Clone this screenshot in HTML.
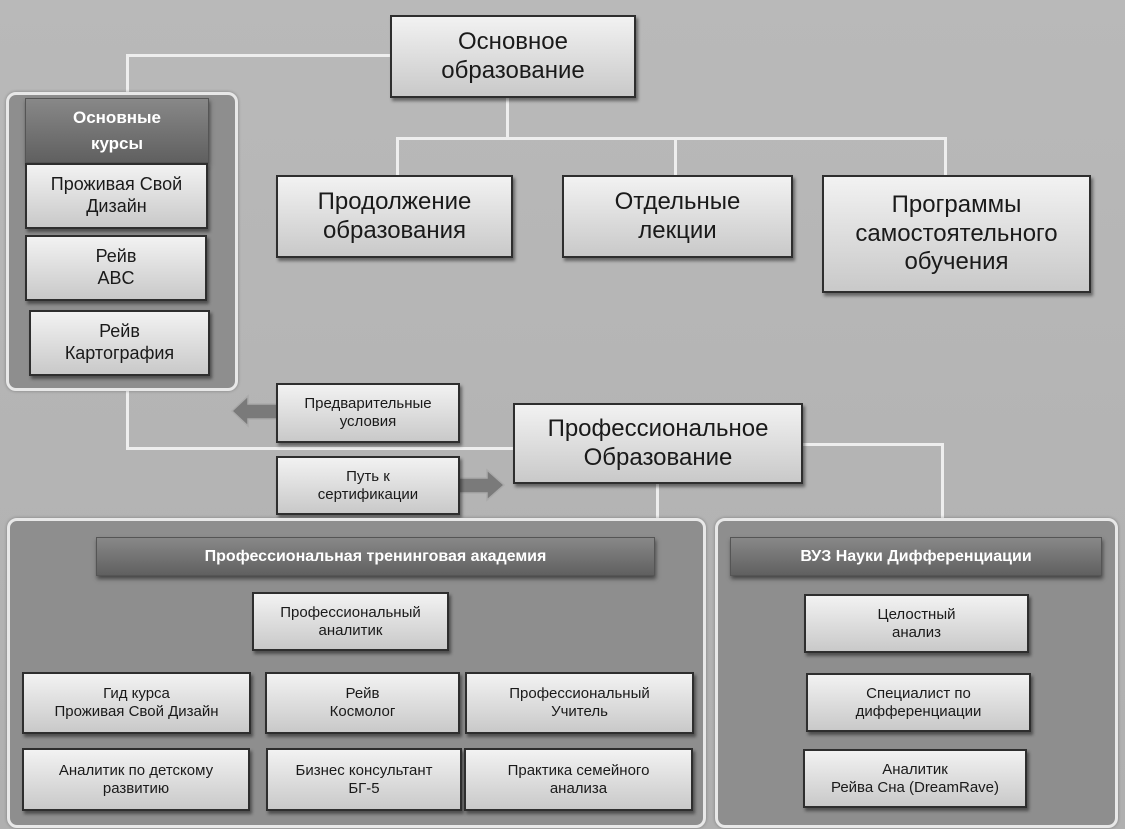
<!DOCTYPE html>
<html><head><meta charset="utf-8"><style>
body{margin:0;width:1125px;height:829px;background:linear-gradient(#b9b9b9,#b0b0b0);position:relative;overflow:hidden;font-family:"Liberation Sans",sans-serif;color:#1a1a1a}
.b{position:absolute;box-sizing:border-box;border:2px solid #2e2e2e;background:linear-gradient(#f2f2f2,#c9c9c9);box-shadow:2px 3px 3px rgba(0,0,0,.45);display:flex;align-items:center;justify-content:center;text-align:center;line-height:1.2}
.l{position:absolute;background:#eeeeee}
.p{position:absolute;box-sizing:border-box;border:3px solid #e8e8e8;border-radius:10px;background:#8e8e8e;box-shadow:0 0 3px rgba(0,0,0,.3)}
.h{position:absolute;box-sizing:border-box;background:linear-gradient(#888,#606060);color:#fff;font-weight:bold;display:flex;align-items:center;justify-content:center;text-align:center;box-shadow:1px 3px 4px rgba(0,0,0,.5);border:1px solid #555}
.f24{font-size:24px}.f18{font-size:18px}.f15{font-size:15px}
</style></head><body>
<!-- connectors -->
<div class="l" style="left:126px;top:54px;width:266px;height:3px"></div>
<div class="l" style="left:126px;top:54px;width:3px;height:42px"></div>
<div class="l" style="left:126px;top:388px;width:3px;height:62px"></div>
<div class="l" style="left:126px;top:447px;width:390px;height:3px"></div>
<div class="l" style="left:506px;top:96px;width:3px;height:44px"></div>
<div class="l" style="left:396px;top:137px;width:551px;height:3px"></div>
<div class="l" style="left:396px;top:137px;width:3px;height:40px"></div>
<div class="l" style="left:674px;top:137px;width:3px;height:40px"></div>
<div class="l" style="left:944px;top:137px;width:3px;height:40px"></div>
<div class="l" style="left:800px;top:443px;width:144px;height:3px"></div>
<div class="l" style="left:941px;top:443px;width:3px;height:78px"></div>
<div class="l" style="left:656px;top:482px;width:3px;height:38px"></div>

<div class="b f24" style="left:390px;top:15px;width:246px;height:83px">Основное<br>образование</div>
<div class="b f24" style="left:276px;top:175px;width:237px;height:83px">Продолжение<br>образования</div>
<div class="b f24" style="left:562px;top:175px;width:231px;height:83px">Отдельные<br>лекции</div>
<div class="b f24" style="left:822px;top:175px;width:269px;height:118px">Программы<br>самостоятельного<br>обучения</div>

<div class="p" style="left:6px;top:92px;width:232px;height:299px"></div>
<div class="h" style="left:25px;top:98px;width:184px;height:65px;font-size:17px;line-height:1.5">Основные<br>курсы</div>
<div class="b f18" style="left:25px;top:163px;width:183px;height:66px">Проживая Свой<br>Дизайн</div>
<div class="b f18" style="left:25px;top:235px;width:182px;height:66px">Рейв<br>ABC</div>
<div class="b f18" style="left:29px;top:310px;width:181px;height:66px">Рейв<br>Картография</div>

<svg style="position:absolute;left:228px;top:392px" width="52" height="40"><polygon points="4,19 20,4 20,12 50,12 50,27 20,27 20,34" fill="#7a7a7a" stroke="#aaa" stroke-width="1.5"/></svg>
<svg style="position:absolute;left:457px;top:466px" width="52" height="40"><polygon points="2,12 30,12 30,4 47,19 30,34 30,27 2,27" fill="#7a7a7a" stroke="#aaa" stroke-width="1.5"/></svg>
<div class="b f15" style="left:276px;top:383px;width:184px;height:60px">Предварительные<br>условия</div>
<div class="b f15" style="left:276px;top:456px;width:184px;height:59px">Путь к<br>сертификации</div>
<div class="b f24" style="left:513px;top:403px;width:290px;height:81px">Профессиональное<br>Образование</div>

<div class="p" style="left:7px;top:518px;width:699px;height:310px"></div>
<div class="h" style="left:96px;top:537px;width:559px;height:39px;font-size:16px">Профессиональная тренинговая академия</div>
<div class="b f15" style="left:252px;top:592px;width:197px;height:59px">Профессиональный<br>аналитик</div>
<div class="b f15" style="left:22px;top:672px;width:229px;height:62px">Гид курса<br>Проживая Свой Дизайн</div>
<div class="b f15" style="left:265px;top:672px;width:195px;height:62px">Рейв<br>Космолог</div>
<div class="b f15" style="left:465px;top:672px;width:229px;height:62px">Профессиональный<br>Учитель</div>
<div class="b f15" style="left:22px;top:748px;width:228px;height:63px">Аналитик по детскому<br>развитию</div>
<div class="b f15" style="left:266px;top:748px;width:196px;height:63px">Бизнес консультант<br>БГ-5</div>
<div class="b f15" style="left:464px;top:748px;width:229px;height:63px">Практика семейного<br>анализа</div>

<div class="p" style="left:715px;top:518px;width:403px;height:310px"></div>
<div class="h" style="left:730px;top:537px;width:372px;height:39px;font-size:16px">ВУЗ Науки Дифференциации</div>
<div class="b f15" style="left:804px;top:594px;width:225px;height:59px">Целостный<br>анализ</div>
<div class="b f15" style="left:806px;top:673px;width:225px;height:59px">Специалист по<br>дифференциации</div>
<div class="b f15" style="left:803px;top:749px;width:224px;height:59px">Аналитик<br>Рейва Сна (DreamRave)</div>
</body></html>
